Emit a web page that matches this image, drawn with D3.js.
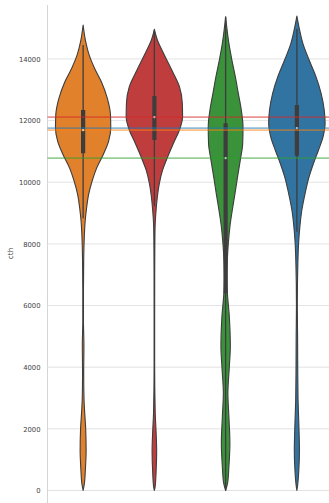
<!DOCTYPE html>
<html>
<head>
<meta charset="utf-8">
<script src="https://cdn.jsdelivr.net/npm/d3@7"></script>
<style>
  html, body { margin: 0; padding: 0; background: #ffffff; }
  svg { display: block; }
</style>
</head>
<body>
<svg id="chart" width="329" height="503"></svg>
<script>
// Groups drawn left to right
const categories = ["group 1", "group 2", "group 3", "group 4"];

// Density profiles: [cth value, relative density]
const profile1 = [
  [15100, 0], [14560, 0.09], [14130, 0.21], [13700, 0.40], [13260, 0.64],
  [12720, 0.85], [12180, 0.96], [11750, 0.97], [11315, 0.89], [10885, 0.70],
  [10450, 0.47], [10020, 0.31], [9590, 0.19], [9155, 0.12], [8720, 0.07],
  [8070, 0.035], [7420, 0.02], [6500, 0.012], [5500, 0.012], [4700, 0.028],
  [3800, 0.02], [3000, 0.03], [2600, 0.05], [2000, 0.09], [1300, 0.105],
  [700, 0.08], [200, 0.04], [0, 0]
];
const profile2 = [
  [14960, 0], [14615, 0.105], [14185, 0.32], [13640, 0.61], [13100, 0.88],
  [12560, 0.98], [12125, 0.99], [11695, 0.88], [11265, 0.67], [10830, 0.47],
  [10400, 0.29], [9965, 0.175], [9530, 0.105], [9100, 0.06], [8560, 0.025],
  [7800, 0.015], [6000, 0.01], [4000, 0.01], [2500, 0.03], [1900, 0.06],
  [1260, 0.08], [600, 0.06], [150, 0.03], [0, 0]
];
const profile3 = [
  [15370, 0], [14505, 0.115], [13965, 0.22], [13425, 0.34], [12885, 0.445],
  [12345, 0.55], [11800, 0.61], [11265, 0.60], [10720, 0.515], [10180, 0.42],
  [9640, 0.33], [9100, 0.235], [8560, 0.15], [8020, 0.095], [7480, 0.06],
  [6935, 0.045], [6505, 0.055], [5640, 0.13], [4665, 0.165], [4015, 0.13],
  [3155, 0.08], [2395, 0.115], [1530, 0.15], [770, 0.115], [245, 0.07], [0, 0]
];
const profile4 = [
  [15390, 0], [14940, 0.095], [14505, 0.21], [13965, 0.43], [13425, 0.67],
  [12885, 0.85], [12345, 0.96], [11910, 0.99], [11480, 0.92], [11045, 0.76],
  [10615, 0.585], [10180, 0.43], [9640, 0.29], [9100, 0.175], [8560, 0.105],
  [8020, 0.06], [7380, 0.035], [6000, 0.015], [5000, 0.025], [4000, 0.03],
  [3000, 0.04], [2400, 0.06], [1800, 0.08], [1300, 0.09], [700, 0.07],
  [200, 0.03], [0, 0]
];
const profiles = [profile1, profile2, profile3, profile4];

// Box summaries per group
const q1Values = [10940, 11370, 6400, 10860];
const q3Values = [12345, 12800, 11910, 12505];
const medianValues = [11690, 12110, 10780, 11755];
const whiskerLow = [8830, 9225, 0, 8395];
const whiskerHigh = [14450, 14945, 15370, 14970];

// Tick labels on the cth axis
const yTicks = [0, 2000, 4000, 6000, 8000, 10000, 12000, 14000];

// Colours
const fillColors = ["#e1812c", "#c03d3e", "#3a923a", "#3274a1"];
const lineColors = ["#ff7f0e", "#d62728", "#2ca02c", "#1f77b4"];

const svg = d3.select("#chart");
const W = 329;
const plot = { left: 47.5, right: 332.5, top: 5, bottom: 502 };

const y = d3.scaleLinear().domain([-373, 15750]).range([plot.bottom, plot.top]);
const x = d3.scaleBand().domain(categories).range([plot.left, plot.right]).padding(0);
const halfW = d3.scaleLinear().domain([0, 1]).range([0, x.step() * 0.4]);

// Horizontal grid
svg.append("g")
  .selectAll("line")
  .data(yTicks)
  .join("line")
  .attr("x1", plot.left).attr("x2", W)
  .attr("y1", d => y(d)).attr("y2", d => y(d))
  .attr("stroke", "#e3e3e3").attr("stroke-width", 1);

// Left spine
svg.append("line")
  .attr("x1", plot.left).attr("x2", plot.left)
  .attr("y1", plot.top).attr("y2", 503)
  .attr("stroke", "#d6d6d6").attr("stroke-width", 1);

// Tick labels
const yAxis = d3.axisLeft(y).tickValues(yTicks).tickSize(0).tickPadding(7)
  .tickFormat(d3.format("d"));
const gAxis = svg.append("g").attr("transform", `translate(${plot.left},0)`).call(yAxis);
gAxis.select(".domain").remove();
gAxis.selectAll("text")
  .attr("font-family", "DejaVu Sans, sans-serif")
  .attr("font-size", 6.8)
  .attr("fill", "#444");

// Axis title
svg.append("text")
  .attr("transform", `translate(13,${(plot.top + plot.bottom) / 2}) rotate(-90)`)
  .attr("text-anchor", "middle")
  .attr("font-family", "DejaVu Sans, sans-serif")
  .attr("font-size", 7.4)
  .attr("fill", "#444")
  .text("cth");

// Violins
const gV = svg.append("g");
categories.forEach((c, i) => {
  const cx = x(c) + x.bandwidth() / 2;
  const area = d3.area()
    .y(d => y(d[0]))
    .x0(d => cx - halfW(d[1]))
    .x1(d => cx + halfW(d[1]))
    .curve(d3.curveMonotoneY);
  gV.append("path")
    .attr("d", area(profiles[i]))
    .attr("fill", fillColors[i])
    .attr("stroke", "#3d3d3d")
    .attr("stroke-width", 1.1)
    .attr("stroke-linejoin", "round");

  // inner box: whiskers, IQR bar, median dot
  gV.append("line")
    .attr("x1", cx).attr("x2", cx)
    .attr("y1", y(whiskerLow[i])).attr("y2", y(whiskerHigh[i]))
    .attr("stroke", "#3d3d3d").attr("stroke-width", 1.3);
  gV.append("line")
    .attr("x1", cx).attr("x2", cx)
    .attr("y1", y(q1Values[i])).attr("y2", y(q3Values[i]))
    .attr("stroke", "#3d3d3d").attr("stroke-width", 4.2);
  gV.append("circle")
    .attr("cx", cx).attr("cy", y(medianValues[i]))
    .attr("r", 1.1)
    .attr("fill", "#ffffff");
});

// Median reference lines across the plot
svg.append("g")
  .selectAll("line")
  .data(medianValues)
  .join("line")
  .attr("x1", plot.left).attr("x2", W)
  .attr("y1", d => y(d)).attr("y2", d => y(d))
  .attr("stroke", (d, i) => lineColors[i])
  .attr("stroke-opacity", 0.5)
  .attr("stroke-width", 1.8);
</script>
</body>
</html>
